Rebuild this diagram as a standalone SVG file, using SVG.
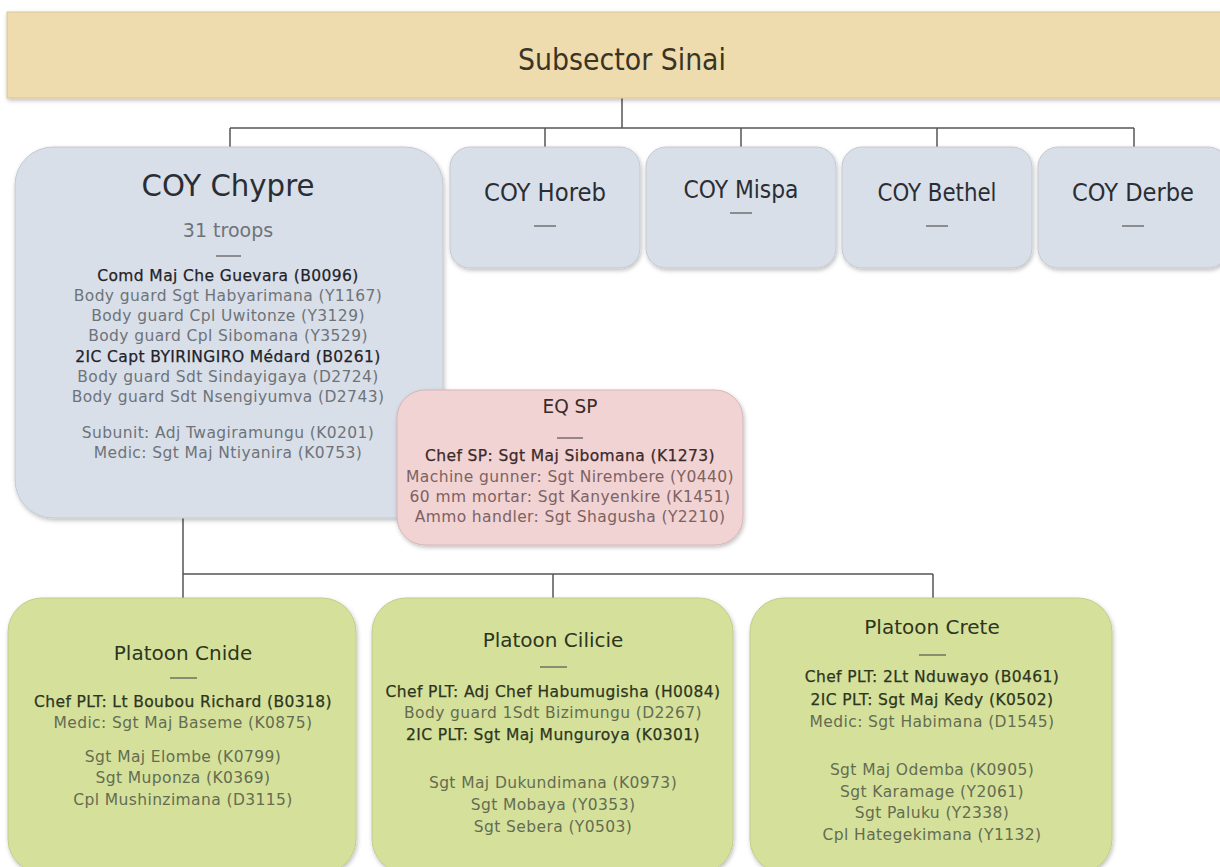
<svg xmlns="http://www.w3.org/2000/svg" width="1220" height="867" viewBox="0 0 1220 867">
<defs>
<filter id="sh" x="-5%" y="-5%" width="110%" height="115%">
<feDropShadow dx="1" dy="2" stdDeviation="2" flood-color="#000" flood-opacity="0.25"/>
</filter>
</defs>
<style>
text{font-family:"DejaVu Sans","Liberation Sans",sans-serif;text-anchor:middle}
.cond{font-family:"DejaVu Sans Condensed","DejaVu Sans",sans-serif}
.coy{fill:#d9dfe8;stroke:#c4c9cf;stroke-width:1}
.eq{fill:#f2d3d3;stroke:#d6b4b4;stroke-width:1}
.plt{fill:#d5e19b;stroke:#c2cc8c;stroke-width:1}
.top{fill:#efdcae;stroke:#d9c694;stroke-width:1}
.ln{font-size:15.5px;letter-spacing:0.4px}
.b{fill:#1f2328;stroke:#1f2328;stroke-width:0.25}
.g{fill:#6e737a}
.gb{fill:#2d3520;stroke:#2d3520;stroke-width:0.25}
.gg{fill:#646c52}
.pb{fill:#3a2a2a;stroke:#3a2a2a;stroke-width:0.25}
.pg{fill:#7d6262}
.dash{stroke:#555;stroke-width:1.2}
.con{stroke:#555;stroke-width:1.5;fill:none}
</style>
<g id="connectors">
<path class="con" d="M622 98V128M230 128H1134M230 128V147M545 128V147M741 128V147M937 128V147M1134 128V147"/>
<path class="con" d="M183 518V574M183 574H933M183 574V598M553 574V598M933 574V598"/>
</g>
<g id="subsector">
<rect class="top" x="7" y="12" width="1230" height="86" filter="url(#sh)"/>
<text class="cond" x="622" y="70" font-size="30" fill="#3b3424" textLength="208" lengthAdjust="spacingAndGlyphs">Subsector Sinai</text>
</g>
<g id="coy-chypre">
<rect class="coy" x="15" y="147" width="428" height="371" rx="38" filter="url(#sh)"/>
<text x="228" y="196" font-size="30" fill="#2a2e34" textLength="173" lengthAdjust="spacingAndGlyphs">COY Chypre</text>
<text x="228" y="237" font-size="19" fill="#6e737a">31 troops</text>
<line class="dash" x1="216" y1="256" x2="241" y2="256"/>
<text class="ln b" x="228" y="281">Comd Maj Che Guevara (B0096)</text>
<text class="ln g" x="228" y="301">Body guard Sgt Habyarimana (Y1167)</text>
<text class="ln g" x="228" y="321">Body guard Cpl Uwitonze (Y3129)</text>
<text class="ln g" x="228" y="341">Body guard Cpl Sibomana (Y3529)</text>
<text class="ln b" x="228" y="362">2IC Capt BYIRINGIRO Médard (B0261)</text>
<text class="ln g" x="228" y="382">Body guard Sdt Sindayigaya (D2724)</text>
<text class="ln g" x="228" y="402">Body guard Sdt Nsengiyumva (D2743)</text>
<text class="ln g" x="228" y="438">Subunit: Adj Twagiramungu (K0201)</text>
<text class="ln g" x="228" y="458">Medic: Sgt Maj Ntiyanira (K0753)</text>
</g>
<g id="coy-horeb">
<rect class="coy" x="450" y="147" width="190" height="121" rx="20" filter="url(#sh)"/>
<text class="cond" x="545" y="201" font-size="24" fill="#2a2e34" textLength="122" lengthAdjust="spacingAndGlyphs">COY Horeb</text>
<line class="dash" x1="534" y1="226" x2="556" y2="226"/>
</g>
<g id="coy-mispa">
<rect class="coy" x="646" y="147" width="190" height="121" rx="20" filter="url(#sh)"/>
<text class="cond" x="741" y="198" font-size="24" fill="#2a2e34" textLength="115" lengthAdjust="spacingAndGlyphs">COY Mispa</text>
<line class="dash" x1="730" y1="213" x2="752" y2="213"/>
</g>
<g id="coy-bethel">
<rect class="coy" x="842" y="147" width="190" height="121" rx="20" filter="url(#sh)"/>
<text class="cond" x="937" y="201" font-size="24" fill="#2a2e34" textLength="119" lengthAdjust="spacingAndGlyphs">COY Bethel</text>
<line class="dash" x1="926" y1="226" x2="948" y2="226"/>
</g>
<g id="coy-derbe">
<rect class="coy" x="1038" y="147" width="190" height="121" rx="20" filter="url(#sh)"/>
<text class="cond" x="1133" y="201" font-size="24" fill="#2a2e34" textLength="122" lengthAdjust="spacingAndGlyphs">COY Derbe</text>
<line class="dash" x1="1122" y1="226" x2="1144" y2="226"/>
</g>
<g id="eq-sp">
<rect class="eq" x="397" y="390" width="346" height="155" rx="28" filter="url(#sh)"/>
<text x="570" y="413" font-size="20" fill="#3a2a2a" textLength="55" lengthAdjust="spacingAndGlyphs">EQ SP</text>
<line class="dash" x1="557" y1="438" x2="583" y2="438"/>
<text class="ln pb" x="570" y="461">Chef SP: Sgt Maj Sibomana (K1273)</text>
<text class="ln pg" x="570" y="482">Machine gunner: Sgt Nirembere (Y0440)</text>
<text class="ln pg" x="570" y="502">60 mm mortar: Sgt Kanyenkire (K1451)</text>
<text class="ln pg" x="570" y="522">Ammo handler: Sgt Shagusha (Y2210)</text>
</g>
<g id="platoon-cnide">
<rect class="plt" x="8" y="598" width="348" height="275" rx="34" filter="url(#sh)"/>
<text x="183" y="660" font-size="20" fill="#2d3520">Platoon Cnide</text>
<line class="dash" x1="170" y1="678" x2="197" y2="678"/>
<text class="ln gb" x="183" y="707">Chef PLT: Lt Boubou Richard (B0318)</text>
<text class="ln gg" x="183" y="728">Medic: Sgt Maj Baseme (K0875)</text>
<text class="ln gg" x="183" y="762">Sgt Maj Elombe (K0799)</text>
<text class="ln gg" x="183" y="783">Sgt Muponza (K0369)</text>
<text class="ln gg" x="183" y="805">Cpl Mushinzimana (D3115)</text>
</g>
<g id="platoon-cilicie">
<rect class="plt" x="372" y="598" width="361" height="275" rx="34" filter="url(#sh)"/>
<text x="553" y="647" font-size="20" fill="#2d3520">Platoon Cilicie</text>
<line class="dash" x1="540" y1="667" x2="567" y2="667"/>
<text class="ln gb" x="553" y="697">Chef PLT: Adj Chef Habumugisha (H0084)</text>
<text class="ln gg" x="553" y="718">Body guard 1Sdt Bizimungu (D2267)</text>
<text class="ln gb" x="553" y="740">2IC PLT: Sgt Maj Munguroya (K0301)</text>
<text class="ln gg" x="553" y="788">Sgt Maj Dukundimana (K0973)</text>
<text class="ln gg" x="553" y="810">Sgt Mobaya (Y0353)</text>
<text class="ln gg" x="553" y="832">Sgt Sebera (Y0503)</text>
</g>
<g id="platoon-crete">
<rect class="plt" x="750" y="598" width="362" height="275" rx="34" filter="url(#sh)"/>
<text x="932" y="634" font-size="20" fill="#2d3520">Platoon Crete</text>
<line class="dash" x1="919" y1="655" x2="946" y2="655"/>
<text class="ln gb" x="932" y="682">Chef PLT: 2Lt Nduwayo (B0461)</text>
<text class="ln gb" x="932" y="705">2IC PLT: Sgt Maj Kedy (K0502)</text>
<text class="ln gg" x="932" y="727">Medic: Sgt Habimana (D1545)</text>
<text class="ln gg" x="932" y="775">Sgt Maj Odemba (K0905)</text>
<text class="ln gg" x="932" y="797">Sgt Karamage (Y2061)</text>
<text class="ln gg" x="932" y="818">Sgt Paluku (Y2338)</text>
<text class="ln gg" x="932" y="840">Cpl Hategekimana (Y1132)</text>
</g>
</svg>
